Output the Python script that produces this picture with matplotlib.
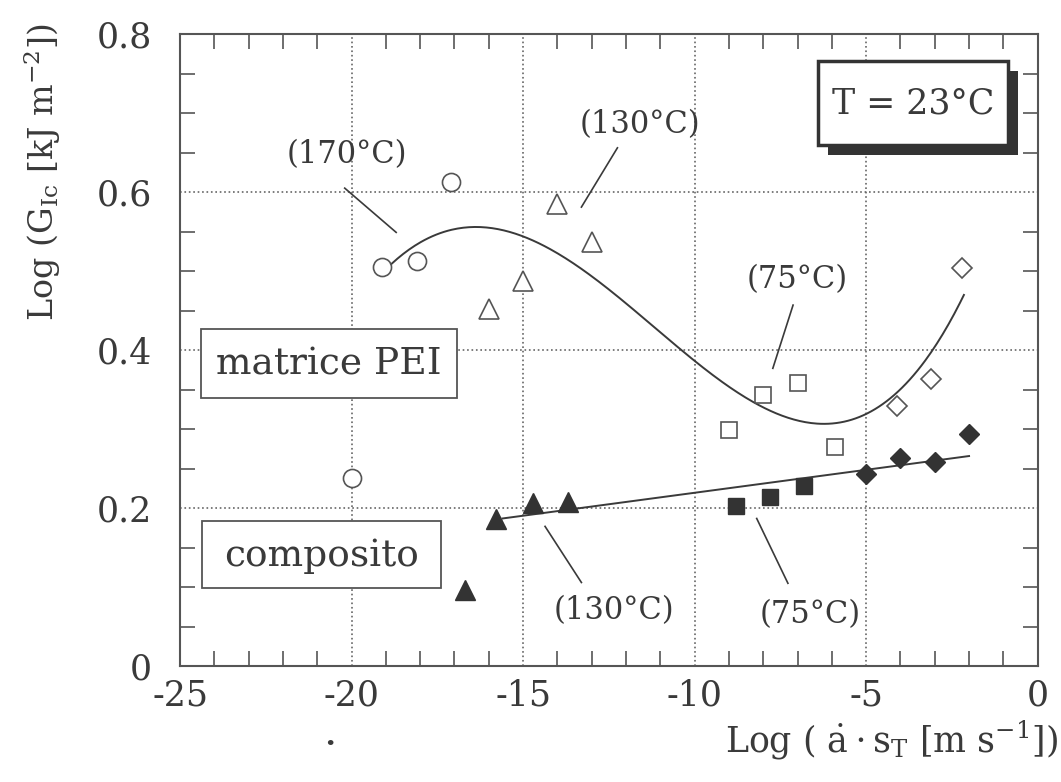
import numpy as np
import matplotlib
matplotlib.use("Agg")
import matplotlib.pyplot as plt
from matplotlib.ticker import MultipleLocator, FixedLocator
from matplotlib.patches import Rectangle
import matplotlib.patheffects as pe

plt.rcParams['font.family'] = ['DejaVu Serif']
plt.rcParams['mathtext.fontset'] = 'dejavuserif'
plt.rcParams['axes.unicode_minus'] = False

# matrice PEI (open symbols)
pei170_x = [-20.0, -19.1, -18.1, -17.1]
pei170_y = [0.238, 0.505, 0.513, 0.613]
pei130_x = [-16.0, -15.0, -14.0, -13.0]
pei130_y = [0.452, 0.487, 0.585, 0.537]
pei75_x = [-9.0, -8.0, -7.0, -5.9]
pei75_y = [0.299, 0.343, 0.359, 0.278]
pei23_x = [-4.1, -3.1, -2.2]
pei23_y = [0.329, 0.363, 0.504]

# composito (filled symbols)
comp130_x = [-16.7, -15.8, -14.7, -13.7]
comp130_y = [0.096, 0.186, 0.206, 0.208]
comp75_x = [-8.8, -7.8, -6.8]
comp75_y = [0.203, 0.214, 0.228]
comp23_x = [-5.0, -4.0, -3.0, -2.0]
comp23_y = [0.243, 0.263, 0.258, 0.294]

# fitted curves
pei_curve_x = [-19.0, -18.5, -16.2, -14.9, -12.2, -11.1, -9.9, -8.0, -6.35, -5.0, -4.05, -3.05, -2.15]
pei_curve_y = [0.497, 0.529, 0.553, 0.542, 0.466, 0.425, 0.387, 0.328, 0.304, 0.318, 0.346, 0.409, 0.466]
comp_line_x = [-15.6, -2.0]
comp_line_y = [0.187, 0.266]

xticks = [-25, -20, -15, -10, -5, 0]
xlabels = ['-25', '-20', '-15', '-10', '-5', '0']
yticks = [0, 0.2, 0.4, 0.6, 0.8]
ylabels = ['0', '0.2', '0.4', '0.6', '0.8']

# (label, text position, leader start, leader end)
notes = [
    ('(170°C)', (-20.15, 0.647), (-20.2, 0.605), (-18.7, 0.549)),
    ('(130°C)', (-11.6, 0.685), (-12.25, 0.656), (-13.3, 0.581)),
    ('(75°C)', (-7.0, 0.489), (-7.13, 0.457), (-7.72, 0.377)),
    ('(130°C)', (-12.35, 0.071), (-14.36, 0.177), (-13.3, 0.106)),
    ('(75°C)', (-6.64, 0.065), (-8.19, 0.187), (-7.28, 0.105)),
]

ink = '#3a3a3a'
gray = '#555555'

fig = plt.figure(figsize=(10.61, 7.82), dpi=100)
ax = fig.add_axes([0.1697, 0.148, 0.8083, 0.8085])
ax.set_xlim(-25, 0)
ax.set_ylim(0, 0.8)

# fit curves
c = np.polyfit(pei_curve_x, pei_curve_y, 5)
xx = np.linspace(pei_curve_x[0], pei_curve_x[-1], 300)
ax.plot(xx, np.polyval(c, xx), color=ink, lw=1.4, zorder=2)
ax.plot(comp_line_x, comp_line_y, color=ink, lw=1.4, zorder=2)

op = dict(ls='none', mfc='white', mec=gray, mew=1.2, zorder=3)
ax.plot(pei170_x, pei170_y, marker='o', ms=13, **op)
ax.plot(pei130_x, pei130_y, marker='^', ms=14, **op)
ax.plot(pei75_x, pei75_y, marker='s', ms=12, **op)
ax.plot(pei23_x, pei23_y, marker='D', ms=10.5, **op)

fp = dict(ls='none', mfc='#333333', mec='#333333', mew=1, zorder=3)
ax.plot(comp130_x, comp130_y, marker='^', ms=14, **fp)
ax.plot(comp75_x, comp75_y, marker='s', ms=12, **fp)
ax.plot(comp23_x, comp23_y, marker='D', ms=10.5, **fp)

for lab, tp, p0, p1 in notes:
    ax.text(tp[0], tp[1], lab, fontsize=22, color=ink, ha='center', va='center')
    ax.plot([p0[0], p1[0]], [p0[1], p1[1]], color=ink, lw=1.2)

# label boxes
ax.add_patch(Rectangle((-24.39, 0.339), 7.46, 0.088, fill=True, fc='white',
                       ec=gray, lw=1.3, zorder=4))
ax.text(-20.66, 0.382, 'matrice PEI', fontsize=27, color=ink, ha='center',
        va='center', zorder=5)
ax.add_patch(Rectangle((-24.36, 0.099), 6.96, 0.085, fill=True, fc='white',
                       ec=gray, lw=1.3, zorder=4))
ax.text(-20.88, 0.14, 'composito', fontsize=27, color=ink, ha='center',
        va='center', zorder=5)
tbox = Rectangle((-6.4, 0.659), 5.55, 0.107, fc='white', ec='#333333', lw=2.5,
                 zorder=4)
tbox.set_path_effects([pe.SimplePatchShadow(offset=(7, -7), shadow_rgbFace='#333333',
                                            alpha=1), pe.Normal()])
ax.add_patch(tbox)
ax.text(-3.62, 0.712, 'T = 23°C', fontsize=25, color=ink, ha='center',
        va='center', zorder=5)

# axes styling
ax.xaxis.set_major_locator(FixedLocator(xticks))
ax.set_xticklabels(xlabels)
ax.yaxis.set_major_locator(FixedLocator(yticks))
ax.set_yticklabels(ylabels)
ax.xaxis.set_minor_locator(MultipleLocator(1))
ax.yaxis.set_minor_locator(MultipleLocator(0.05))
ax.tick_params(which='both', direction='in', top=True, right=True, colors=gray)
ax.tick_params(which='major', length=0, labelsize=25, labelcolor=ink)
ax.tick_params(axis='x', which='major', pad=9)
ax.tick_params(axis='y', which='major', pad=20)
ax.tick_params(which='minor', length=11, width=1.2)
ax.grid(True, which='major', ls=':', color='#666666', lw=1.2)
for s in ax.spines.values():
    s.set_color(gray)
    s.set_linewidth(1.5)

fig.text(42 / 1061, 1 - 172 / 782, r'Log (G$_{\mathrm{Ic}}$ [kJ m$^{-2}$])',
         rotation=90, ha='center', va='center', fontsize=24, color=ink)
fig.text(1058 / 1061, 1 - 740 / 782,
         r'Log ( $\dot{\mathrm{a}}\cdot\mathrm{s}_{\mathrm{T}}$ [m s$^{-1}$])',
         ha='right', va='center', fontsize=25, color=ink)
fig.text(330 / 1061, 1 - 745 / 782, '•', ha='center', va='center', fontsize=14,
         color=ink)

fig.savefig('out.png', dpi=100)
